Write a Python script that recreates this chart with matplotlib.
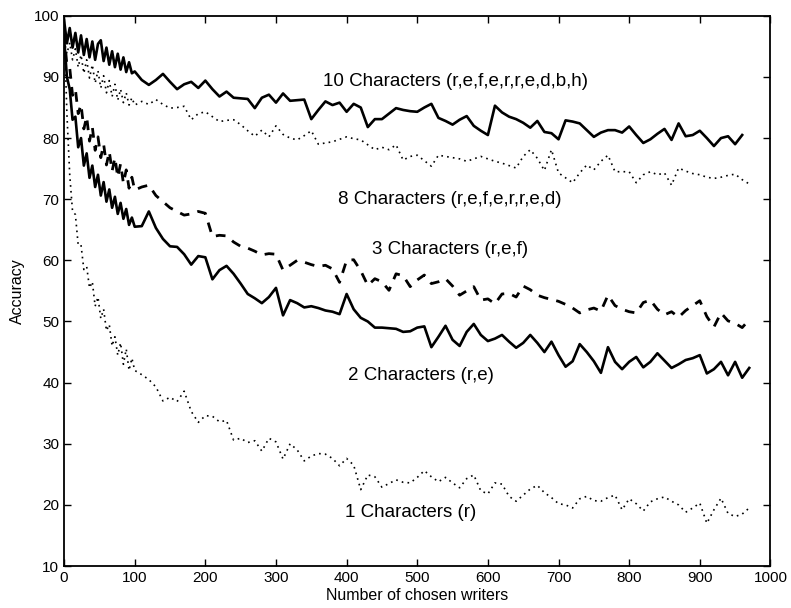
import numpy as np
import matplotlib
matplotlib.use("Agg")
import matplotlib.pyplot as plt

plt.rcParams['font.family'] = ['Liberation Sans', 'DejaVu Sans']

# dense start (every 4 writers) then every 10 writers
x_head = np.arange(0, 100, 4)
x_tail = np.arange(100, 980, 10)

ten_head = [99.3, 95.5, 98.0, 94.8, 97.2, 94.0, 96.8, 93.6, 96.2, 93.2, 95.8, 92.8, 95.4,
            96.0, 92.6, 94.8, 92.0, 94.2, 91.6, 93.8, 91.2, 93.2, 90.8, 92.4, 90.6]
ten_tail = [90.9, 89.5, 88.7, 89.5, 90.5, 89.2, 88.0, 88.8, 89.2, 88.2,
            89.4, 88.0, 86.8, 87.6, 86.6, 86.5, 86.4, 84.9, 86.6, 87.1,
            85.8, 87.3, 86.1, 86.2, 86.3, 83.1, 84.6, 86.0, 85.4, 85.8,
            84.3, 85.6, 85.0, 81.8, 83.1, 83.1, 84.0, 84.9, 84.6, 84.4,
            84.3, 85.0, 85.6, 83.3, 82.8, 82.2, 83.0, 83.6, 82.0, 81.2,
            80.5, 85.3, 84.2, 83.5, 83.1, 82.5, 81.7, 82.8, 81.0, 80.8,
            79.8, 82.9, 82.7, 82.4, 81.3, 80.2, 80.9, 81.3, 81.3, 80.9,
            81.9, 80.5, 79.2, 79.8, 80.7, 81.5, 79.7, 82.4, 80.3, 80.5,
            81.2, 80.0, 78.7, 80.0, 80.3, 79.0, 80.5]

eight_head = [96.0, 93.8, 95.6, 92.8, 94.6, 91.6, 93.6, 90.6, 92.8, 89.8, 92.0, 89.0, 91.0,
              88.2, 90.2, 87.4, 89.4, 86.8, 88.8, 86.2, 88.0, 85.8, 87.4, 85.4, 86.6]
eight_tail = [85.4, 86.0, 85.5, 86.3, 85.5, 84.9, 85.0, 85.2, 83.0, 84.0,
              84.3, 83.5, 82.7, 82.9, 83.0, 82.2, 81.2, 80.3, 81.3, 80.2,
              82.0, 80.6, 80.0, 79.7, 80.4, 81.2, 79.0, 79.2, 79.4, 79.8,
              80.2, 79.9, 79.7, 78.9, 78.1, 78.5, 78.1, 78.9, 76.4, 77.0,
              77.2, 76.3, 75.4, 77.2, 77.0, 76.8, 76.6, 76.2, 76.6, 77.0,
              76.6, 76.2, 75.9, 75.5, 75.1, 77.0, 78.1, 76.7, 74.7, 78.1,
              74.3, 73.5, 72.7, 74.3, 75.6, 74.8, 76.2, 77.2, 74.5, 74.5,
              74.5, 72.7, 74.0, 74.5, 74.0, 74.3, 72.3, 75.1, 74.6, 74.2,
              74.0, 73.6, 73.4, 73.6, 73.9, 74.1, 73.2, 72.5]

three_head = [97.0, 92.0, 91.5, 87.0, 88.0, 84.0, 85.5, 81.5, 83.5, 79.5, 81.8, 78.0, 80.2,
              76.8, 79.0, 75.6, 77.8, 74.6, 76.8, 73.6, 75.8, 72.6, 74.8, 71.8, 73.6]
three_tail = [71.5, 72.0, 72.3, 70.6, 69.6, 68.6, 68.0, 67.4, 67.6, 68.0,
              67.7, 63.9, 64.1, 64.0, 63.0, 62.3, 62.0, 61.5, 60.9, 61.1,
              61.0, 58.4, 59.2, 60.0, 59.7, 59.3, 59.0, 59.2, 58.6, 56.4,
              60.0, 60.1, 58.3, 55.9, 57.0, 56.5, 55.1, 57.8, 57.5, 55.7,
              56.8, 57.6, 56.2, 56.5, 57.0, 55.8, 54.3, 55.0, 55.7, 53.5,
              53.7, 52.9, 54.5, 54.6, 54.0, 55.8, 55.2, 54.3, 53.9, 53.6,
              53.3, 52.8, 52.2, 51.4, 51.9, 52.2, 51.7, 54.3, 52.6, 52.0,
              51.6, 51.4, 53.1, 53.5, 52.0, 51.1, 51.6, 50.7, 51.8, 52.6,
              53.4, 50.8, 49.1, 51.4, 50.1, 49.7, 49.0, 50.3]

two_head = [96.5, 90.0, 88.0, 83.0, 83.5, 78.5, 80.0, 75.5, 77.5, 73.5, 75.5, 72.0, 74.0,
            70.6, 72.8, 69.6, 71.6, 68.6, 70.4, 67.6, 69.4, 66.8, 68.4, 65.8, 67.0]
two_tail = [65.5, 65.6, 68.0, 65.3, 63.5, 62.3, 62.2, 61.0, 59.3, 60.7,
            60.5, 56.9, 58.4, 59.1, 57.8, 56.2, 54.5, 53.8, 53.0, 54.0,
            55.5, 51.0, 53.5, 53.0, 52.3, 52.5, 52.2, 51.8, 51.6, 51.2,
            54.5, 52.0, 50.6, 50.0, 49.0, 49.0, 48.9, 48.8, 48.3, 48.4,
            49.0, 49.2, 45.8, 47.5, 49.3, 47.0, 46.0, 48.3, 49.6, 47.8,
            46.8, 47.2, 47.8, 46.7, 45.7, 46.5, 47.8, 46.5, 45.0, 46.7,
            44.5, 42.6, 43.5, 46.3, 45.0, 43.5, 41.6, 45.8, 43.4, 42.2,
            43.4, 44.2, 42.5, 43.4, 44.8, 43.6, 42.4, 43.0, 43.7, 44.0,
            44.5, 41.5, 42.2, 43.4, 41.2, 43.4, 40.8, 42.4]

one_head = [99.0, 84.0, 74.0, 68.0, 67.5, 62.5, 62.5, 58.5, 59.0, 55.5, 56.5, 52.5, 54.0,
            50.5, 52.0, 48.5, 49.5, 46.0, 47.5, 44.5, 46.5, 43.0, 45.5, 42.0, 44.0]
one_tail = [42.0, 41.3, 40.5, 39.3, 37.0, 37.6, 36.9, 38.6, 35.3, 33.5,
            34.6, 34.5, 33.6, 33.8, 30.6, 30.9, 30.2, 30.5, 28.8, 30.9,
            30.3, 27.5, 30.0, 29.0, 27.2, 28.0, 28.4, 28.3, 27.6, 26.4,
            27.6, 26.5, 22.5, 24.9, 24.6, 22.9, 23.5, 24.1, 23.7, 23.6,
            24.5, 25.6, 24.6, 23.8, 24.5, 23.6, 22.8, 24.3, 24.9, 22.3,
            21.8, 23.6, 23.4, 21.4, 20.6, 21.6, 22.6, 23.2, 22.0, 21.2,
            20.2, 20.0, 19.5, 21.0, 21.4, 20.7, 20.6, 21.2, 21.6, 19.2,
            21.0, 20.2, 19.0, 20.5, 21.0, 21.3, 20.6, 20.0, 18.8, 19.5,
            20.3, 17.0, 19.2, 21.1, 18.6, 18.1, 18.5, 19.5]

labels = ["10 Characters (r,e,f,e,r,r,e,d,b,h)", "8 Characters (r,e,f,e,r,r,e,d)",
          "3 Characters (r,e,f)", "2 Characters (r,e)", "1 Characters (r)"]
label_pos = [(367, 89.2), (388, 69.9), (436, 61.7), (402, 41.2), (398, 18.7)]

fig = plt.figure(figsize=(7.91, 6.08), dpi=100)
ax = fig.add_axes([0.081, 0.069, 0.893, 0.905])

def full(head, tail):
    xs = np.concatenate([x_head, x_tail[:len(tail)]])
    return xs, np.concatenate([head, tail])

solid = dict(color='black', lw=1.9, solid_joinstyle='round')
ax.plot(*full(ten_head, ten_tail), **solid)
ax.plot(*full(eight_head, eight_tail), color='black', lw=1.2, linestyle=(0, (1, 2.5)))
ax.plot(*full(three_head, three_tail), color='black', lw=2.0, linestyle=(0, (3.5, 3)))
ax.plot(*full(two_head, two_tail), **solid)
ax.plot(*full(one_head, one_tail), color='black', lw=1.2, linestyle=(0, (1, 2.5)))

for txt, (tx, ty) in zip(labels, label_pos):
    ax.text(tx, ty, txt, ha='left', va='center', fontsize=13.5)

ax.set_xlim(0, 1000)
ax.set_ylim(10, 100)
ax.set_xticks(range(0, 1001, 100))
ax.set_yticks(range(10, 101, 10))
ax.tick_params(direction='in', top=True, right=True, length=5, width=1, labelsize=11)
for s in ax.spines.values():
    s.set_linewidth(1.3)
ax.set_xlabel("Number of chosen writers", fontsize=11.5, labelpad=2)
ax.set_ylabel("Accuracy", fontsize=11.5, labelpad=6)

fig.savefig("out.png", dpi=100)
